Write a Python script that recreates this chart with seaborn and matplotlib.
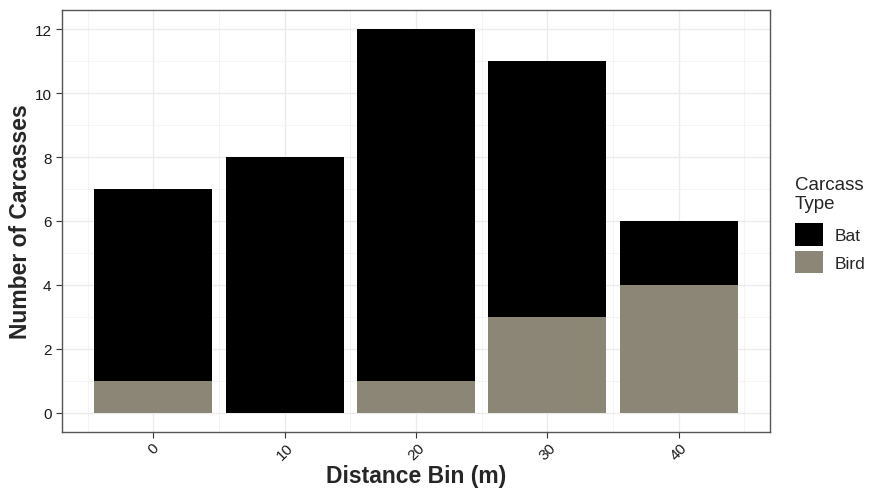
import pandas as pd
import numpy as np
import matplotlib
matplotlib.use("Agg")
import matplotlib.pyplot as plt
import seaborn as sns
from matplotlib.patches import Patch
from matplotlib.ticker import MultipleLocator

# Carcass counts per 10 m distance bin
distance_bins = [0, 10, 20, 30, 40]
bat_counts = [6, 8, 11, 8, 2]
bird_counts = [1, 0, 1, 3, 4]
carcass_types = ["Bat", "Bird"]
type_colors = {"Bat": "#000000", "Bird": "#8C8677"}

df = pd.DataFrame({
    "Distance": distance_bins * 2,
    "Count": bat_counts + bird_counts,
    "Type": ["Bat"] * len(distance_bins) + ["Bird"] * len(distance_bins),
})

sns.set_theme(style="white")
plt.rcParams["font.family"] = ["Liberation Sans", "DejaVu Sans"]

fig = plt.figure(figsize=(8.69, 4.89), dpi=100)
ax = fig.add_axes([62 / 869, 56 / 489, 708 / 869, 422 / 489])

# stacked bars, bird at the bottom
bottoms = np.zeros(len(distance_bins))
for t in ["Bird", "Bat"]:
    sub = df[df["Type"] == t]
    ax.bar(sub["Distance"], sub["Count"], width=9, bottom=bottoms,
           color=type_colors[t], linewidth=0, zorder=3)
    bottoms += sub["Count"].values

ax.set_xlim(-6.95, 46.95)
ax.set_ylim(-0.6, 12.6)
ax.xaxis.set_major_locator(MultipleLocator(10))
ax.xaxis.set_minor_locator(MultipleLocator(5))
ax.yaxis.set_major_locator(MultipleLocator(2))
ax.yaxis.set_minor_locator(MultipleLocator(1))
ax.grid(which="major", color="#EBEBEB", linewidth=1.0, zorder=0)
ax.grid(which="minor", color="#F3F3F3", linewidth=0.6, zorder=0)
ax.set_axisbelow(True)

for s in ax.spines.values():
    s.set_color("#555555")
    s.set_linewidth(1.0)

ax.tick_params(axis="both", which="major", length=4, width=0.8, color="#333333",
               labelcolor="#1A1A1A", labelsize=11, bottom=True, left=True)
ax.tick_params(axis="x", which="major", pad=2)
ax.tick_params(axis="both", which="minor", length=0)
plt.setp(ax.get_xticklabels(), rotation=45, ha="center", va="top")

ax.set_xlabel("Distance Bin (m)", fontsize=16.5, fontweight="bold", labelpad=1)
ax.set_ylabel("Number of Carcasses", fontsize=16.5, fontweight="bold", labelpad=2)

handles = [Patch(facecolor=type_colors[t], edgecolor="none") for t in carcass_types]
leg = ax.legend(handles, carcass_types, title="Carcass\nType", loc="center left",
                bbox_to_anchor=((795 - 62) / 708, 0.492), frameon=False, fontsize=12.5,
                title_fontsize=13.5, handlelength=1.6, handleheight=1.6,
                handletextpad=0.7, labelspacing=0.3, borderpad=0, borderaxespad=0)
leg._legend_box.align = "left"
leg._legend_box.sep = 8

fig.savefig("out.png", dpi=100)
